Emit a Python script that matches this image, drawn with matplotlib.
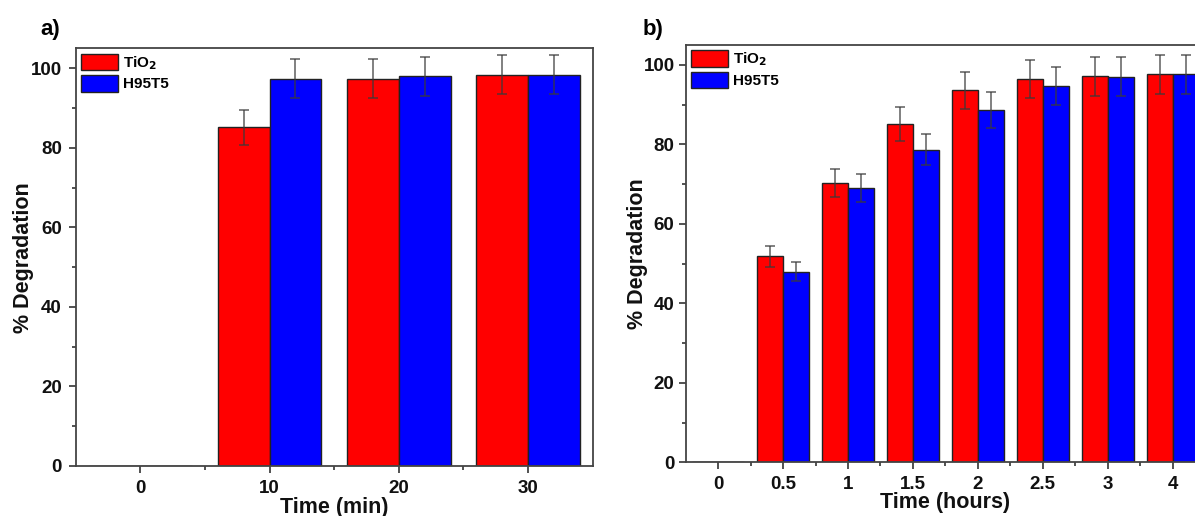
import numpy as np
import matplotlib
matplotlib.use("Agg")
import matplotlib.pyplot as plt
from matplotlib.ticker import MultipleLocator

plt.rcParams['font.family'] = ['Liberation Sans', 'DejaVu Sans']
plt.rcParams['font.weight'] = 'bold'

# ---- data ----
cats_a = ['0', '10', '20', '30']
tio2_a = [0, 85.1, 97.4, 98.3]
h95_a = [0, 97.4, 98.0, 98.3]
tio2_a_err = [0, 4.3, 4.9, 4.9]
h95_a_err = [0, 4.9, 4.9, 4.9]

cats_b = ['0', '0.5', '1', '1.5', '2', '2.5', '3', '4']
tio2_b = [0, 51.8, 70.2, 85.2, 93.6, 96.4, 97.1, 97.6]
h95_b = [0, 47.9, 69.1, 78.7, 88.7, 94.6, 97.0, 97.6]
tio2_b_err = [0, 2.6, 3.5, 4.3, 4.6, 4.8, 4.9, 4.9]
h95_b_err = [0, 2.4, 3.5, 4.0, 4.5, 4.8, 4.9, 4.9]

series_names = ['TiO$_\\mathbf{2}$', 'H95T5']
colors = ['#FF0000', '#0000FF']

fig = plt.figure(figsize=(11.95, 5.16), dpi=100)
ax_a = fig.add_axes([75.7/1195, 1-466/516, (592.7-75.7)/1195, (466-48.3)/516])
ax_b = fig.add_axes([685.7/1195, 1-462.3/516, (1205-685.7)/1195, (462.3-45)/516])

def draw(ax, cats, v1, v2, e1, e2, xlabel, xlabelpad, ypad, ylabel_x):
    x = np.arange(len(cats))
    w = 0.4
    ekw = dict(ecolor='#3a3a3a', elinewidth=1.2, capsize=3.3, capthick=1.2, alpha=0.75)
    errs1 = [e if v > 0 else np.nan for v, e in zip(v1, e1)]
    errs2 = [e if v > 0 else np.nan for v, e in zip(v2, e2)]
    ax.bar(x - w/2, v1, w, color=colors[0], edgecolor='#222222', linewidth=1.0,
           label=series_names[0], zorder=2)
    ax.bar(x + w/2, v2, w, color=colors[1], edgecolor='#222222', linewidth=1.0,
           label=series_names[1], zorder=2)
    ax.errorbar(x - w/2, v1, yerr=errs1, fmt='none', zorder=3, **ekw)
    ax.errorbar(x + w/2, v2, yerr=errs2, fmt='none', zorder=3, **ekw)
    ax.set_xlim(-0.5, len(cats) - 0.5)
    ax.set_ylim(0, 105)
    ax.set_xticks(x)
    ax.set_xticklabels(cats)
    ax.set_xticks(x[:-1] + 0.5, minor=True)
    ax.yaxis.set_major_locator(MultipleLocator(20))
    ax.yaxis.set_minor_locator(MultipleLocator(10))
    ax.tick_params(axis='both', which='major', direction='out', length=5, width=1.2,
                   labelsize=13.5, color='#333333')
    ax.tick_params(axis='x', which='major', pad=5)
    ax.tick_params(axis='y', which='major', pad=ypad)
    ax.tick_params(axis='both', which='minor', direction='out', length=3, width=1.2,
                   color='#333333')
    ax.tick_params(top=False, right=False, which='both')
    for s in ax.spines.values():
        s.set_linewidth(1.3)
        s.set_color('#444444')
    for lab in ax.get_xticklabels() + ax.get_yticklabels():
        lab.set_fontweight('bold')
        lab.set_color('#111111')
    ax.set_ylabel('% Degradation', fontsize=15.5, fontweight='bold', color='#111111',
                  va='center')
    ax.yaxis.set_label_coords(ylabel_x, 0.5)
    ax.set_xlabel(xlabel, fontsize=15.5, fontweight='bold', labelpad=xlabelpad,
                  color='#111111')
    leg = ax.legend(loc='upper left', frameon=False, fontsize=11, handlelength=2.4,
                    handleheight=1.3, handletextpad=0.35, labelspacing=0.2,
                    borderaxespad=0.15, borderpad=0.2)
    for t in leg.get_texts():
        t.set_fontweight('bold')

draw(ax_a, cats_a, tio2_a, h95_a, tio2_a_err, h95_a_err, 'Time (min)', 0, 5,
     (23 - 75.7) / 517)
draw(ax_b, cats_b, tio2_b, h95_b, tio2_b_err, h95_b_err, 'Time (hours)', -1, 3,
     (638 - 685.7) / 519.3)

fig.text(40/1195, 1-30/516, 'a)', fontsize=16, fontweight='bold', va='center', ha='left')
fig.text(643/1195, 1-30/516, 'b)', fontsize=16, fontweight='bold', va='center', ha='left')

fig.savefig('out.png', dpi=100)
